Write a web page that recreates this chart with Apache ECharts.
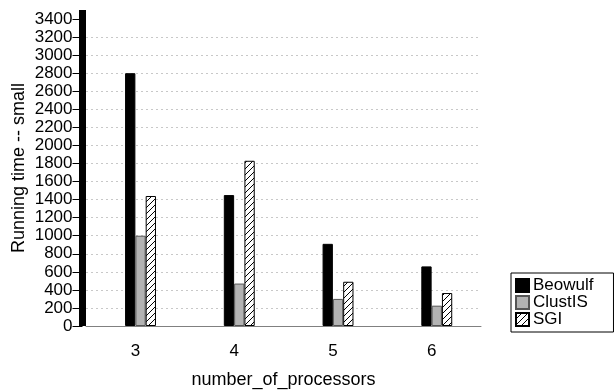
<!DOCTYPE html>
<html>
<head>
<meta charset="utf-8">
<script src="https://cdn.jsdelivr.net/npm/echarts@6.0.0/dist/echarts.min.js"></script>
<style>
html,body{margin:0;padding:0;background:#fff;}
#chart{width:615px;height:390px;}
</style>
</head>
<body>
<div id="chart"></div>
<script>
var categories = ['3', '4', '5', '6'];
var beowulf = [2800, 1450, 910, 660];
var clustis = [1000, 470, 300, 225];
var sgi = [1440, 1830, 490, 365];
var yTicks = [0,200,400,600,800,1000,1200,1400,1600,1800,2000,2200,2400,2600,2800,3000,3200,3400];

var FONT = '"Liberation Sans", Arial, Helvetica, sans-serif';

function hatch() {
  var c = document.createElement('canvas');
  c.width = 6; c.height = 6;
  var g = c.getContext('2d');
  g.fillStyle = '#fff';
  g.fillRect(0, 0, 6, 6);
  g.strokeStyle = '#000';
  g.lineWidth = 1;
  g.beginPath();
  g.moveTo(-1, 7); g.lineTo(7, -1);
  g.moveTo(-1, 1); g.lineTo(1, -1);
  g.moveTo(5, 7); g.lineTo(7, 5);
  g.stroke();
  return c;
}

var chart = echarts.init(document.getElementById('chart'), null, {renderer: 'canvas'});
chart.setOption({
  animation: false,
  backgroundColor: '#fff',
  grid: {left: 86, right: 134, top: 10, bottom: 64, containLabel: false, outerBoundsMode: 'none'},
  legend: {
    orient: 'vertical',
    left: 511, top: 273,
    padding: [4, 20, 4, 4],
    borderColor: '#000', borderWidth: 1,
    itemWidth: 13, itemHeight: 13, itemGap: 0,
    icon: 'rect',
    textStyle: {fontFamily: FONT, fontSize: 17, color: '#000', padding: [0, 0, 0, -1]},
    data: ['Beowulf', 'ClustIS', 'SGI']
  },
  xAxis: {
    type: 'category',
    data: categories,
    name: 'number_of_processors',
    nameLocation: 'middle',
    nameGap: 45,
    nameMoveOverlap: false,
    nameTextStyle: {fontFamily: FONT, fontSize: 18, color: '#000'},
    axisLine: {lineStyle: {color: '#808080', width: 1}},
    axisTick: {alignWithLabel: true, length: 6, lineStyle: {color: '#808080'}},
    axisLabel: {fontFamily: FONT, fontSize: 17, color: '#000', margin: 17},
    splitLine: {show: false}
  },
  yAxis: {
    type: 'value',
    min: 0, max: 3500, interval: 200,
    offset: 3.5,
    name: 'Running time -- small',
    nameLocation: 'middle',
    nameGap: 54,
    nameMoveOverlap: false,
    nameTextStyle: {fontFamily: FONT, fontSize: 18, color: '#000'},
    axisLine: {show: true, lineStyle: {color: '#000', width: 7, cap: 'butt'}},
    axisTick: {show: true, length: 10, customValues: yTicks, lineStyle: {color: '#000'}},
    axisLabel: {fontFamily: FONT, fontSize: 17, color: '#000', margin: 10, customValues: yTicks,
      formatter: function (v) { return String(v); }},
    splitLine: {show: true, showMaxLine: false, lineStyle: {color: '#c8c8c8', type: [2, 3], width: 1}}
  },
  series: [
    {name: '', type: 'bar', data: [null, null, null, null], barWidth: 10.3, barGap: '0%', silent: true},
    {name: 'Beowulf', type: 'bar', data: beowulf, barWidth: 10.3, barGap: '0%',
      itemStyle: {color: '#000', borderColor: '#000', borderWidth: 1}},
    {name: 'ClustIS', type: 'bar', data: clustis, barWidth: 10.3, barGap: '0%',
      itemStyle: {color: '#b3b3b3', borderColor: '#555', borderWidth: 1}},
    {name: 'SGI', type: 'bar', data: sgi, barWidth: 10.3, barGap: '0%',
      itemStyle: {color: {image: hatch(), repeat: 'repeat'}, borderColor: '#000', borderWidth: 1}}
  ]
});
</script>
</body>
</html>
